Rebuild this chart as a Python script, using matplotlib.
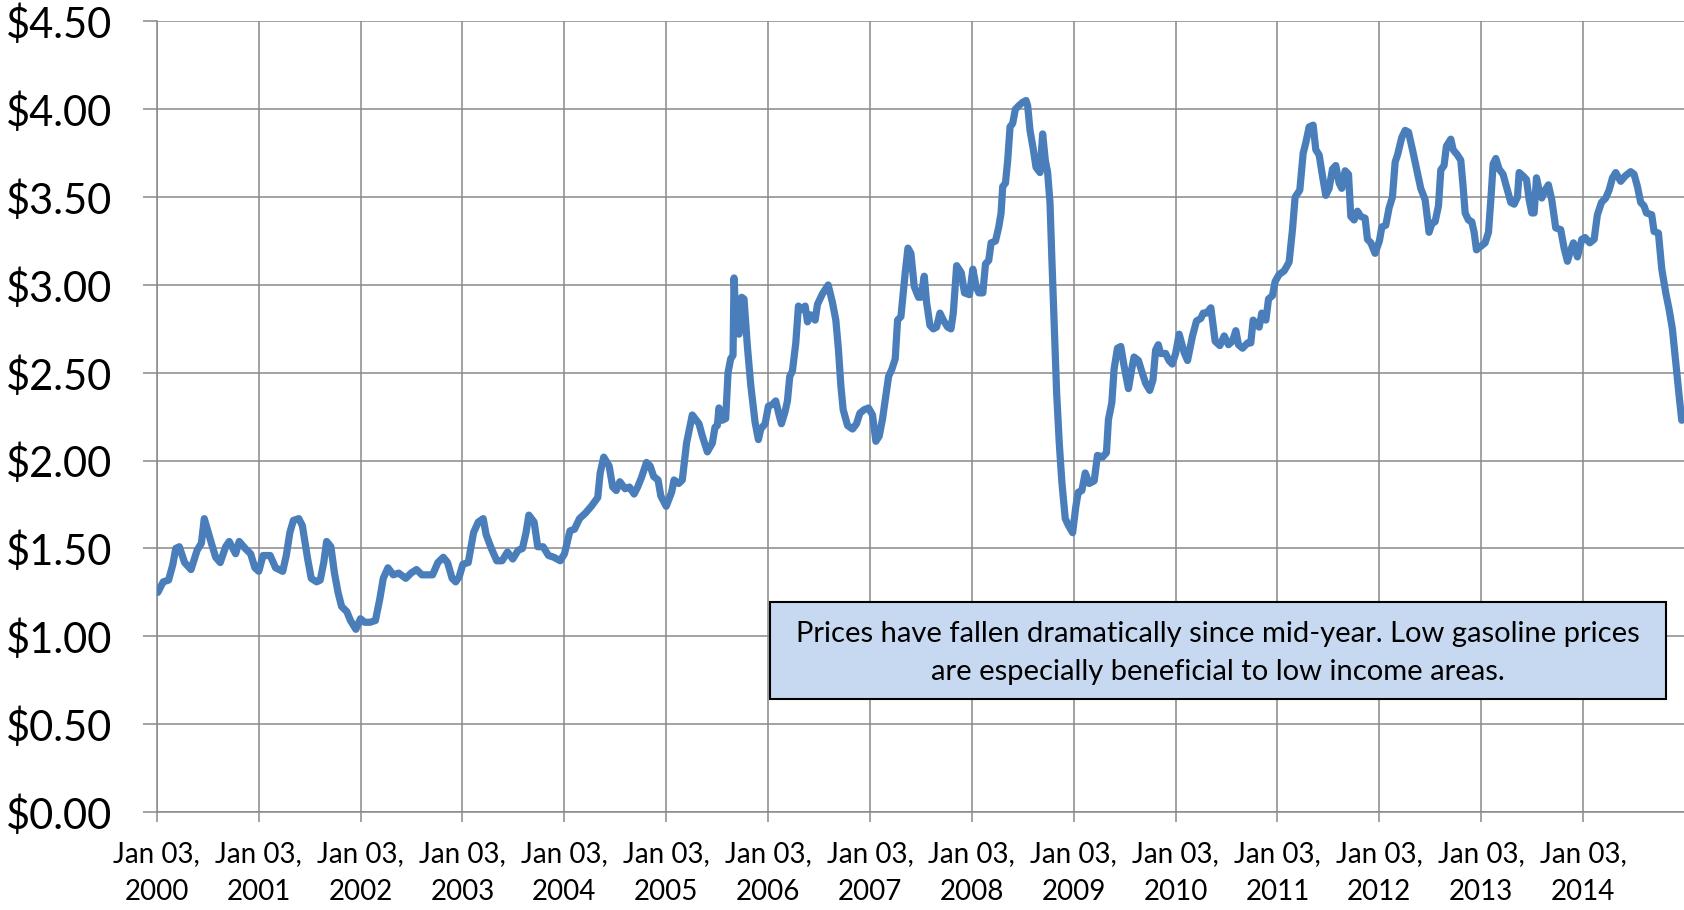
import numpy as np
import matplotlib
matplotlib.use("Agg")
import matplotlib.pyplot as plt
from matplotlib.patches import Rectangle

plt.rcParams["font.family"] = ["Lato", "DejaVu Sans"]

# weekly retail gasoline price (decimal year, $/gal)
yrs_2000_2005 = [2000.010, 2000.063, 2000.116, 2000.158, 2000.186, 2000.221, 2000.273, 2000.336, 2000.396, 2000.438,
                 2000.466, 2000.536, 2000.578, 2000.623, 2000.676, 2000.711, 2000.774, 2000.809, 2000.868, 2000.921,
                 2000.963, 2001.001, 2001.043, 2001.113, 2001.166, 2001.236, 2001.271, 2001.306, 2001.341, 2001.394,
                 2001.429, 2001.481, 2001.516, 2001.569, 2001.604, 2001.639, 2001.667, 2001.709, 2001.744, 2001.779,
                 2001.814, 2001.866, 2001.901, 2001.954, 2001.999, 2002.041, 2002.094, 2002.146, 2002.188, 2002.223,
                 2002.269, 2002.321, 2002.374, 2002.444, 2002.496, 2002.549, 2002.602, 2002.707, 2002.759, 2002.812,
                 2002.854, 2002.899, 2002.934, 2002.969, 2003.004, 2003.057, 2003.109, 2003.155, 2003.204, 2003.232,
                 2003.284, 2003.337, 2003.389, 2003.442, 2003.494, 2003.547, 2003.589, 2003.624, 2003.652, 2003.704,
                 2003.739, 2003.792, 2003.845, 2003.897, 2003.960, 2004.002, 2004.055, 2004.100, 2004.149, 2004.205,
                 2004.265, 2004.328, 2004.352, 2004.387, 2004.440, 2004.475, 2004.510, 2004.545, 2004.597, 2004.639,
                 2004.685, 2004.720, 2004.755, 2004.807, 2004.842, 2004.877, 2004.920, 2004.947, 2005.000, 2005.053,
                 2005.077, 2005.123, 2005.158, 2005.200, 2005.256]
px_2000_2005 = [1.25, 1.31, 1.32, 1.41, 1.50, 1.51, 1.42, 1.38, 1.49, 1.53,
                1.67, 1.53, 1.45, 1.42, 1.51, 1.54, 1.47, 1.54, 1.50, 1.47,
                1.39, 1.37, 1.46, 1.46, 1.39, 1.37, 1.46, 1.59, 1.66, 1.67,
                1.63, 1.44, 1.33, 1.31, 1.32, 1.42, 1.54, 1.51, 1.36, 1.25,
                1.17, 1.14, 1.09, 1.04, 1.10, 1.08, 1.08, 1.09, 1.21, 1.33,
                1.39, 1.35, 1.36, 1.33, 1.36, 1.38, 1.35, 1.35, 1.42, 1.45,
                1.42, 1.33, 1.31, 1.34, 1.41, 1.42, 1.59, 1.65, 1.67, 1.58,
                1.50, 1.43, 1.43, 1.48, 1.44, 1.49, 1.50, 1.59, 1.69, 1.65,
                1.51, 1.51, 1.46, 1.45, 1.43, 1.47, 1.60, 1.61, 1.67, 1.70,
                1.74, 1.79, 1.93, 2.02, 1.97, 1.85, 1.83, 1.88, 1.84, 1.85,
                1.81, 1.85, 1.90, 1.99, 1.97, 1.91, 1.89, 1.80, 1.74, 1.82,
                1.89, 1.87, 1.89, 2.10, 2.26]

yrs_2005_2007 = [2005.282, 2005.322, 2005.355, 2005.404, 2005.453, 2005.479, 2005.502, 2005.518, 2005.551, 2005.584,
                 2005.607, 2005.633, 2005.656, 2005.666, 2005.689, 2005.715, 2005.741, 2005.764, 2005.797, 2005.830,
                 2005.872, 2005.905, 2005.928, 2005.971, 2006.003, 2006.043, 2006.075, 2006.108, 2006.131, 2006.167,
                 2006.190, 2006.213, 2006.239, 2006.272, 2006.298, 2006.331, 2006.364, 2006.387, 2006.419, 2006.462,
                 2006.485, 2006.534, 2006.590, 2006.632, 2006.665, 2006.691, 2006.714, 2006.737, 2006.780, 2006.829,
                 2006.868, 2006.901, 2006.943, 2006.986, 2007.025, 2007.058, 2007.091, 2007.124, 2007.156, 2007.183,
                 2007.215, 2007.248, 2007.271, 2007.304, 2007.346, 2007.373, 2007.402, 2007.435, 2007.477, 2007.500,
                 2007.533, 2007.556, 2007.589, 2007.622, 2007.654, 2007.687, 2007.720, 2007.763, 2007.795, 2007.818,
                 2007.851]
px_2005_2007 = [2.24, 2.21, 2.14, 2.05, 2.10, 2.19, 2.20, 2.30, 2.23, 2.24,
                2.50, 2.58, 2.60, 3.04, 2.73, 2.72, 2.93, 2.92, 2.65, 2.43,
                2.22, 2.12, 2.18, 2.21, 2.31, 2.32, 2.34, 2.26, 2.21, 2.28,
                2.34, 2.48, 2.51, 2.67, 2.88, 2.86, 2.88, 2.79, 2.83, 2.80,
                2.89, 2.95, 3.00, 2.90, 2.80, 2.63, 2.43, 2.29, 2.20, 2.18,
                2.21, 2.27, 2.29, 2.30, 2.26, 2.11, 2.14, 2.24, 2.37, 2.48,
                2.52, 2.58, 2.80, 2.82, 3.07, 3.21, 3.18, 2.99, 2.93, 2.93,
                3.05, 2.90, 2.77, 2.75, 2.76, 2.84, 2.80, 2.76, 2.75, 2.84,
                3.11]

yrs_2008_2009 = [2007.896, 2007.928, 2007.977, 2008.010, 2008.042, 2008.069, 2008.108, 2008.134, 2008.166, 2008.189,
                 2008.232, 2008.264, 2008.287, 2008.303, 2008.330, 2008.352, 2008.375, 2008.401, 2008.427, 2008.460,
                 2008.499, 2008.532, 2008.548, 2008.571, 2008.604, 2008.630, 2008.669, 2008.695, 2008.721, 2008.744,
                 2008.767, 2008.786, 2008.809, 2008.832, 2008.858, 2008.884, 2008.917, 2008.949, 2008.989, 2009.021,
                 2009.044, 2009.080, 2009.113, 2009.152, 2009.201, 2009.233, 2009.282, 2009.321, 2009.341, 2009.374,
                 2009.396, 2009.429, 2009.462, 2009.494, 2009.537, 2009.569, 2009.592, 2009.635, 2009.667, 2009.706,
                 2009.746, 2009.778, 2009.804, 2009.830, 2009.853, 2009.902, 2009.935, 2009.967, 2010.000]
px_2008_2009 = [3.07, 2.955, 2.945, 3.09, 2.99, 2.955, 2.955, 3.12, 3.14, 3.24,
                3.25, 3.33, 3.41, 3.56, 3.58, 3.71, 3.90, 3.92, 4.00, 4.02,
                4.04, 4.05, 4.02, 3.88, 3.77, 3.67, 3.64, 3.86, 3.71, 3.64,
                3.47, 3.14, 2.77, 2.39, 2.10, 1.875, 1.67, 1.63, 1.59, 1.74,
                1.82, 1.83, 1.93, 1.87, 1.885, 2.03, 2.02, 2.045, 2.235, 2.33,
                2.52, 2.64, 2.65, 2.54, 2.41, 2.52, 2.59, 2.57, 2.51, 2.44,
                2.40, 2.46, 2.63, 2.66, 2.61, 2.61, 2.57, 2.55, 2.61]

yrs_2010_2014 = [2010.035, 2010.084, 2010.117, 2010.166, 2010.205, 2010.248, 2010.271, 2010.303, 2010.346, 2010.388,
                 2010.434, 2010.477, 2010.519, 2010.558, 2010.591, 2010.617, 2010.657, 2010.706, 2010.738, 2010.761,
                 2010.820, 2010.846, 2010.886, 2010.912, 2010.951, 2010.977, 2011.016, 2011.065, 2011.114, 2011.147,
                 2011.173, 2011.219, 2011.252, 2011.278, 2011.311, 2011.350, 2011.376, 2011.409, 2011.442, 2011.474,
                 2011.507, 2011.540, 2011.572, 2011.605, 2011.631, 2011.664, 2011.697, 2011.720, 2011.752, 2011.785,
                 2011.818, 2011.860, 2011.883, 2011.916, 2011.958, 2012.000, 2012.024, 2012.063, 2012.096, 2012.128,
                 2012.155, 2012.178, 2012.220, 2012.253, 2012.286, 2012.325, 2012.364, 2012.406, 2012.449, 2012.488,
                 2012.515, 2012.547, 2012.580, 2012.603, 2012.635, 2012.658, 2012.701, 2012.724, 2012.766, 2012.799,
                 2012.822, 2012.842, 2012.874, 2012.907, 2012.930, 2012.953, 2012.995, 2013.038, 2013.071, 2013.094,
                 2013.117, 2013.143, 2013.175, 2013.214, 2013.257, 2013.290, 2013.323, 2013.355, 2013.372, 2013.411,
                 2013.444, 2013.470, 2013.496, 2013.519, 2013.542, 2013.568, 2013.594, 2013.627, 2013.659, 2013.692,
                 2013.731, 2013.780, 2013.813, 2013.846, 2013.879, 2013.905, 2013.944, 2013.987, 2014.019, 2014.065,
                 2014.108, 2014.140, 2014.180, 2014.222, 2014.255, 2014.288, 2014.320, 2014.369, 2014.412, 2014.467,
                 2014.500, 2014.533, 2014.565, 2014.598, 2014.621, 2014.673, 2014.696, 2014.739, 2014.772, 2014.811,
                 2014.844, 2014.876, 2014.909, 2014.942, 2014.968]
px_2010_2014 = [2.72, 2.615, 2.57, 2.71, 2.795, 2.81, 2.84, 2.84, 2.87, 2.68,
                2.655, 2.71, 2.66, 2.68, 2.74, 2.66, 2.64, 2.67, 2.67, 2.80,
                2.76, 2.84, 2.80, 2.92, 2.94, 3.02, 3.06, 3.08, 3.13, 3.315,
                3.50, 3.54, 3.75, 3.81, 3.90, 3.91, 3.77, 3.74, 3.62, 3.51,
                3.55, 3.66, 3.68, 3.58, 3.55, 3.65, 3.63, 3.39, 3.37, 3.42,
                3.39, 3.38, 3.26, 3.24, 3.18, 3.25, 3.33, 3.34, 3.44, 3.50,
                3.70, 3.74, 3.84, 3.88, 3.87, 3.77, 3.665, 3.55, 3.485, 3.30,
                3.35, 3.36, 3.45, 3.655, 3.68, 3.79, 3.83, 3.77, 3.74, 3.71,
                3.56, 3.41, 3.37, 3.36, 3.30, 3.20, 3.22, 3.24, 3.30, 3.485,
                3.69, 3.72, 3.66, 3.63, 3.54, 3.47, 3.46, 3.50, 3.64, 3.62,
                3.60, 3.485, 3.41, 3.41, 3.61, 3.54, 3.495, 3.54, 3.57, 3.485,
                3.325, 3.315, 3.21, 3.135, 3.20, 3.24, 3.16, 3.26, 3.27, 3.24,
                3.26, 3.40, 3.47, 3.495, 3.54, 3.61, 3.64, 3.59, 3.62, 3.645,
                3.63, 3.56, 3.47, 3.45, 3.41, 3.40, 3.305, 3.295, 3.09, 2.955,
                2.86, 2.75, 2.56, 2.37, 2.23]

tick_years = list(range(2000, 2015))
tick_labels = ["Jan 03,\n%d" % y for y in tick_years]
price_ticks = [0.0, 0.5, 1.0, 1.5, 2.0, 2.5, 3.0, 3.5, 4.0, 4.5]
note = ("Prices have fallen dramatically since mid-year. Low gasoline prices\n"
        "are especially beneficial to low income areas.")

years = np.array(yrs_2000_2005 + yrs_2005_2007 + yrs_2008_2009 + yrs_2010_2014)
prices = np.array(px_2000_2005 + px_2005_2007 + px_2008_2009 + px_2010_2014)

grid_c = "#898989"

fig = plt.figure(figsize=(16.84, 9.10), dpi=100)
ax = fig.add_axes([0.0931, 0.1077, 0.9069, 0.8687])
ax.plot(years, prices, color="#4A7EBB", lw=5.2, solid_joinstyle="round",
        solid_capstyle="round", zorder=3)

ax.set_xlim(2000, 2014.99)
ax.set_ylim(0, 4.5)
ax.set_xticks(tick_years)
ax.set_xticklabels(tick_labels, fontsize=20, linespacing=1.55)
ax.set_yticks(price_ticks)
ax.set_yticklabels(["\\$%.2f" % v for v in price_ticks], fontsize=30)

ax.grid(True, color=grid_c, lw=1.1)
ax.set_axisbelow(True)
for s in ["top", "right"]:
    ax.spines[s].set_visible(False)
for s in ["left", "bottom"]:
    ax.spines[s].set_color(grid_c)
    ax.spines[s].set_linewidth(1.1)
ax.tick_params(axis="x", direction="out", length=7, width=1.1, color=grid_c, pad=14)
ax.tick_params(axis="y", direction="out", length=10, width=1.1, color=grid_c, pad=22)

# text box
fig.add_artist(Rectangle((0.4573, 0.2319), 0.532, 0.1066, transform=fig.transFigure,
                         facecolor="#C6D9F1", edgecolor="black", lw=1.5, zorder=5))
fig.text(0.7233, 0.2822, note, ha="center", va="center", fontsize=21,
         linespacing=1.55, zorder=6)

fig.savefig("out.png", dpi=100)
